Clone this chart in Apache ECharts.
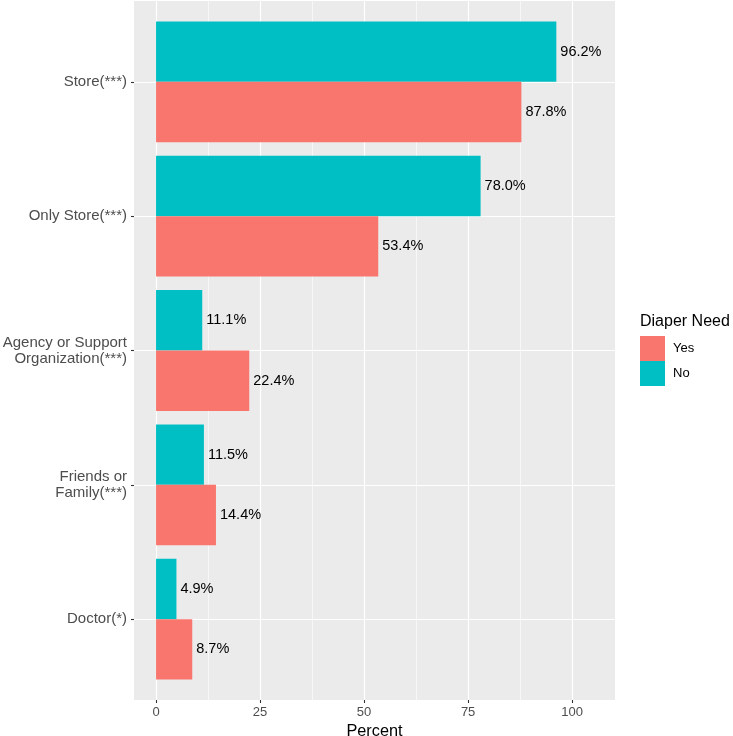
<!DOCTYPE html>
<html>
<head>
<meta charset="utf-8">
<script src="https://cdn.jsdelivr.net/npm/echarts@6/dist/echarts.min.js"></script>
<style>html,body{margin:0;padding:0;background:#fff}#c{width:733px;height:736px}</style>
</head>
<body>
<div id="c"></div>
<script>
const categories = ['Store(***)', 'Only Store(***)', 'Agency or Support\nOrganization(***)', 'Friends or\nFamily(***)', 'Doctor(*)'];
const yesValues = [87.8, 53.4, 22.4, 14.4, 8.7];
const noValues = [96.2, 78.0, 11.1, 11.5, 4.9];
const xTicks = [0, 25, 50, 75, 100];
const xMinorTicks = [12.5, 37.5, 62.5, 87.5];

const FONT = '"Liberation Sans", Arial, sans-serif';
const chart = echarts.init(document.getElementById('c'), null, {renderer: 'canvas'});

const vLines = [];
xMinorTicks.forEach(v => vLines.push({xAxis: v, lineStyle: {color: '#fff', width: 0.6, type: 'solid'}}));
xTicks.forEach(v => vLines.push({xAxis: v, lineStyle: {color: '#fff', width: 1.2, type: 'solid'}}));
const hLines = categories.map(c => ({yAxis: c, lineStyle: {color: '#fff', width: 1.2, type: 'solid'}}));

const labelFmt = p => p.value.toFixed(1) + '%';
const barLabel = {show: true, position: 'right', distance: 4, formatter: labelFmt, color: '#000', fontSize: 14.5, fontFamily: FONT};

// panel: x 134..615, y 1..700 ; discrete expansion 0.6 -> band 134.4px, inset 13.7px
chart.setOption({
  animation: false,
  backgroundColor: '#fff',
  textStyle: {fontFamily: FONT},
  title: {text: 'Diaper Need', left: 640, top: 314, padding: 0, textStyle: {fontSize: 16, fontWeight: 'normal', color: '#000', fontFamily: FONT}},
  legend: {
    data: ['Yes', 'No'], orient: 'vertical', left: 640, top: 336, padding: 0,
    itemWidth: 25, itemHeight: 25, itemGap: 0,
    icon: 'rect',
    textStyle: {fontSize: 13, color: '#000', fontFamily: FONT, padding: [0, 0, 0, 3]},
    selectedMode: false
  },
  grid: [
    {left: 134, right: 118, top: 1, bottom: 36, show: true, backgroundColor: '#EBEBEB', borderWidth: 0, containLabel: false, outerBoundsMode: 'none'},
    {left: 134, right: 118, top: 14.7, bottom: 49.7, show: false, containLabel: false, outerBoundsMode: 'none'}
  ],
  xAxis: [
    {
      gridIndex: 0, type: 'value', min: -5.3, max: 110.3,
      name: 'Percent', nameLocation: 'middle', nameGap: 22,
      nameTextStyle: {fontSize: 16.3, color: '#000', fontFamily: FONT},
      axisLine: {show: false, onZero: false},
      axisTick: {show: true, length: 3, lineStyle: {color: '#333', width: 1.1}, customValues: xTicks},
      axisLabel: {customValues: xTicks, fontSize: 13, color: '#4D4D4D', margin: 6, fontFamily: FONT, formatter: v => String(v)},
      splitLine: {show: false}
    },
    {
      gridIndex: 1, type: 'value', min: -5.3, max: 110.3, show: false,
      splitLine: {show: false}
    }
  ],
  yAxis: [
    {gridIndex: 0, type: 'value', min: 0, max: 1, show: false, splitLine: {show: false}},
    {
      gridIndex: 1, type: 'category', data: categories, inverse: true,
      axisLine: {show: false, onZero: false},
      axisTick: {show: true, length: 3, alignWithLabel: true, lineStyle: {color: '#333', width: 1.1}},
      axisLabel: {fontSize: 15, color: '#4D4D4D', margin: 7, lineHeight: 16, align: 'right', fontFamily: FONT},
      splitLine: {show: false}
    }
  ],
  series: [
    {name: 'vgrid', type: 'line', xAxisIndex: 0, yAxisIndex: 0, data: [], z: 1, silent: true, showSymbol: false,
     markLine: {symbol: ['none', 'none'], silent: true, z: 1, label: {show: false}, data: vLines}},
    {name: 'hgrid', type: 'line', xAxisIndex: 1, yAxisIndex: 1, data: [], z: 1, silent: true, showSymbol: false,
     markLine: {symbol: ['none', 'none'], silent: true, z: 1, label: {show: false}, data: hLines}},
    {name: 'No', type: 'bar', xAxisIndex: 1, yAxisIndex: 1, data: noValues, itemStyle: {color: '#00BFC4'}, barGap: '0%', barCategoryGap: '10%', label: barLabel, z: 3},
    {name: 'Yes', type: 'bar', xAxisIndex: 1, yAxisIndex: 1, data: yesValues, itemStyle: {color: '#F8766D'}, barGap: '0%', barCategoryGap: '10%', label: barLabel, z: 3}
  ]
});
</script>
</body>
</html>
